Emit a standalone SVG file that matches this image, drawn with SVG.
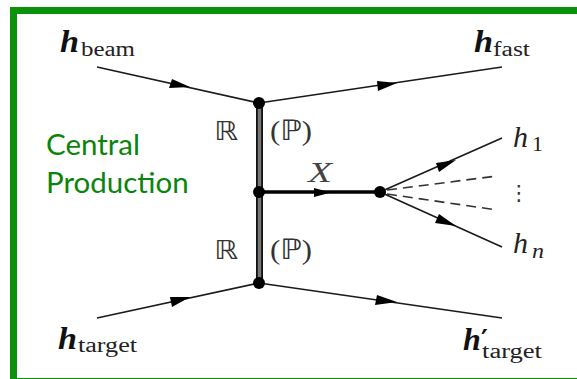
<svg xmlns="http://www.w3.org/2000/svg" width="577" height="379" viewBox="0 0 577 379">
<style>
.l{stroke:#1a1a1a;stroke-width:1.6;fill:none}
.a{fill:#000}
.d{fill:#000}
.h{font:italic bold 32px "Liberation Serif",serif;fill:#111}
.s{font:20px "Liberation Serif",serif;fill:#222}
.m{font:italic 30px "Liberation Serif",serif;fill:#222}
.r{font:26px "DejaVu Sans",sans-serif;fill:#333}
.p{font:28px "Liberation Serif","DejaVu Sans",serif;fill:#333}
.g{font:29.500px Lato,sans-serif;fill:#0b840b}
</style>
<rect width="577" height="379" fill="#fff"/>
<g id="frame" fill="#0a930a"><rect x="10" y="7" width="567" height="7"/><rect x="10" y="7" width="7" height="372"/><rect x="10" y="378" width="567" height="1"/></g>
<g id="connectors">
<path class="l" d="M97 67L259 103M259 103L502 67M97 318L259 283M259 283L502 318M380 192L502 138M380 192L502 247"/>
<path d="M387 190L497 176M387 194L497 210" class="l" stroke-dasharray="10 6" style="stroke:#333"/>
<rect x="256" y="103" width="7" height="180" fill="#111"/>
<rect x="257.800" y="103" width="3.400" height="180" fill="#777"/>
<path d="M259 192H380" stroke="#000" stroke-width="3.500"/>
<path class="a" d="M172 79L169 88L190 87Z M377 81L378 91L397 83Z M170 297L172 307L190 297Z M377 295L375 305L397 302Z M314 188V197L331 192.500Z M436 163L439 172L456 160Z M439 214L435 223L456 226Z"/>
</g>
<g id="v1"><circle class="d" cx="259" cy="103" r="6"/></g>
<g id="v2"><circle class="d" cx="259" cy="192" r="6"/></g>
<g id="v3"><circle class="d" cx="259" cy="283" r="6"/></g>
<g id="v4"><circle class="d" cx="380" cy="192" r="6"/></g>
<g id="h-beam"><text class="h" x="60" y="52" textLength="19" lengthAdjust="spacingAndGlyphs">h</text><text class="s" x="81" y="56" textLength="54" lengthAdjust="spacingAndGlyphs">beam</text></g>
<g id="h-fast"><text class="h" x="474" y="52" textLength="19" lengthAdjust="spacingAndGlyphs">h</text><text class="s" x="493" y="56" textLength="37" lengthAdjust="spacingAndGlyphs">fast</text></g>
<g id="h-target"><text class="h" x="58" y="349" textLength="19" lengthAdjust="spacingAndGlyphs">h</text><text class="s" x="78" y="352" textLength="59" lengthAdjust="spacingAndGlyphs">target</text></g>
<g id="h-target-prime"><text class="h" x="463" y="350">h<tspan style="font:bold 26px 'DejaVu Sans',sans-serif" x="481" y="349">′</tspan><tspan class="s" style="font:20px 'Liberation Serif',serif" x="482" y="358" textLength="60" lengthAdjust="spacingAndGlyphs">target</tspan></text></g>
<g id="h-1"><text class="m" x="513" y="147">h</text><text class="s" x="532" y="151" style="font-size:22px">1</text></g>
<g id="h-n"><text class="m" x="513" y="253">h</text><text class="s" x="532" y="258" style="font-style:italic" textLength="12" lengthAdjust="spacingAndGlyphs">n</text></g>
<g id="dots"><text x="519" y="200" text-anchor="middle" style="font:21px 'DejaVu Sans',sans-serif;fill:#333">⋮</text></g>
<g id="x-label"><text class="m" x="308" y="182" textLength="24" lengthAdjust="spacingAndGlyphs" style="fill:#444">X</text></g>
<g id="r-top"><text class="r" x="214" y="140" textLength="24" lengthAdjust="spacingAndGlyphs">ℝ</text></g>
<g id="p-top"><text class="p" x="270" y="140" textLength="42" lengthAdjust="spacingAndGlyphs">(ℙ)</text></g>
<g id="r-bot"><text class="r" x="214" y="259" textLength="24" lengthAdjust="spacingAndGlyphs">ℝ</text></g>
<g id="p-bot"><text class="p" x="270" y="259" textLength="42" lengthAdjust="spacingAndGlyphs">(ℙ)</text></g>
<g id="title"><text class="g" x="46" y="155">Central</text><text class="g" x="46" y="193">Production</text></g>
</svg>
